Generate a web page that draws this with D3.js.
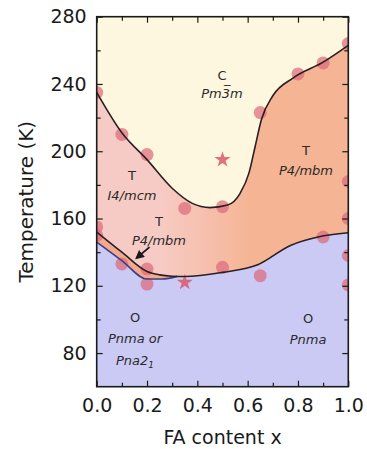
<!DOCTYPE html>
<html>
<head>
<meta charset="utf-8">
<script src="https://cdn.jsdelivr.net/npm/d3@7"></script>
<style>
  html, body { margin: 0; padding: 0; background: #fff; }
  svg { display: block; font-family: "DejaVu Sans", "Liberation Sans", Arial, sans-serif; }
</style>
</head>
<body>
<svg id="chart" width="367" height="449"></svg>
<script>
// Phase boundaries of MA(1-x)FA(x)PbI3: [FA content x, temperature K]
const cubicBoundaryX = [0, 0.1, 0.2, 0.3, 0.38, 0.45, 0.52, 0.57, 0.605, 0.63, 0.655, 0.7, 0.78, 0.9, 1.0];
const cubicBoundaryT = [235, 211, 195, 178, 169, 166.5, 168, 175, 187, 203, 219, 233, 243.5, 253, 263];

const tetragonalBoundaryX = [0, 0.1, 0.2, 0.25, 0.3, 0.35, 0.5, 0.64, 0.77, 0.88, 1.0];
const tetragonalBoundaryT = [152, 140, 128.5, 126.5, 125.7, 125.5, 128, 132.5, 144, 149, 151.5];

const orthoBoundaryX = [0, 0.1, 0.2, 0.26, 0.32];
const orthoBoundaryT = [146, 135, 124, 124, 125.6];

// Measured transition temperatures
const pointX = [0, 0.1, 0.2, 0.35, 0.5, 0.65, 0.8, 0.9, 1.0, 1.0, 1.0, 1.0, 1.0, 0, 0, 0.1, 0.2, 0.2, 0.5, 0.65, 0.9];
const pointT = [235, 210, 198, 166, 167, 223, 246, 252.5, 264, 182, 160, 138, 120.5, 155, 150, 133, 130, 121, 131, 126, 149];
const starX = [0.5, 0.35];
const starT = [195, 122];

// Axis ticks
const xMajorTicks = [0, 0.2, 0.4, 0.6, 0.8, 1.0];
const xMinorTicks = [0.1, 0.3, 0.5, 0.7, 0.9];
const yMajorTicks = [80, 120, 160, 200, 240, 280];
const yMinorTicks = [100, 140, 180, 220, 260];

const W = 367, H = 449;
const margin = { left: 96.7, right: 18.7, top: 16.7, bottom: 62.3 };
const svg = d3.select("#chart");

const x = d3.scaleLinear().domain([0, 1]).range([margin.left, W - margin.right]);
const y = d3.scaleLinear().domain([60, 280]).range([H - margin.bottom, margin.top]);

const zip = (xs, ts) => xs.map((v, i) => [v, ts[i]]);
const cubic = zip(cubicBoundaryX, cubicBoundaryT);
const tetra = zip(tetragonalBoundaryX, tetragonalBoundaryT);
const ortho = zip(orthoBoundaryX, orthoBoundaryT);
// lower edge of all tetragonal phases: orthorhombic line, then shared line
const orthoFull = ortho.concat(tetra.filter(d => d[0] > orthoBoundaryX[orthoBoundaryX.length - 1]));

const defs = svg.append("defs");
defs.append("clipPath").attr("id", "plotClip")
  .append("rect")
  .attr("x", x(0)).attr("y", y(280))
  .attr("width", x(1) - x(0)).attr("height", y(60) - y(280));

const grad = defs.append("linearGradient").attr("id", "tetraGrad")
  .attr("gradientUnits", "userSpaceOnUse")
  .attr("x1", x(0.25)).attr("x2", x(0.62)).attr("y1", 0).attr("y2", 0);
grad.append("stop").attr("offset", 0).attr("stop-color", "#f7cbc5");
grad.append("stop").attr("offset", 1).attr("stop-color", "#f5b493");

const plot = svg.append("g").attr("clip-path", "url(#plotClip)");

const areaAbove = d3.area()
  .x(d => x(d[0])).y0(d => y(d[1])).y1(y(290))
  .curve(d3.curveMonotoneX);
const line = d3.line().x(d => x(d[0])).y(d => y(d[1])).curve(d3.curveMonotoneX);

// orthorhombic phase
plot.append("rect")
  .attr("x", x(0)).attr("y", y(280))
  .attr("width", x(1) - x(0)).attr("height", y(60) - y(280))
  .attr("fill", "#cacaf4");
// P4/mbm sliver + tetragonal phases
plot.append("path").datum(orthoFull).attr("d", areaAbove).attr("fill", "#f3a98c");
plot.append("path").datum(tetra).attr("d", areaAbove).attr("fill", "url(#tetraGrad)");
// cubic phase
plot.append("path").datum(cubic).attr("d", areaAbove).attr("fill", "#fdf7df");

// data markers
plot.selectAll("circle.pt").data(zip(pointX, pointT)).join("circle")
  .attr("class", "pt")
  .attr("cx", d => x(d[0])).attr("cy", d => y(d[1])).attr("r", 6.5)
  .attr("fill", "#dd6b7c").attr("fill-opacity", 0.72);

const star = d3.symbol().type(d3.symbolStar).size(80);
plot.selectAll("path.star").data(zip(starX, starT)).join("path")
  .attr("class", "star")
  .attr("d", star)
  .attr("transform", d => `translate(${x(d[0])},${y(d[1])})`)
  .attr("fill", "#d9586c").attr("fill-opacity", 0.85);

// boundary lines
plot.append("path").datum(ortho).attr("d", line)
  .attr("fill", "none").attr("stroke", "#3c3f80").attr("stroke-width", 1.6);
plot.append("path").datum(tetra).attr("d", line)
  .attr("fill", "none").attr("stroke", "#2a1f22").attr("stroke-width", 1.6);
plot.append("path").datum(cubic).attr("d", line)
  .attr("fill", "none").attr("stroke", "#2a1f22").attr("stroke-width", 1.6);

// arrow toward the P4/mbm sliver
defs.append("marker").attr("id", "arrowHead")
  .attr("viewBox", "0 0 10 10").attr("refX", 8).attr("refY", 5)
  .attr("markerWidth", 5).attr("markerHeight", 5).attr("orient", "auto")
  .append("path").attr("d", "M0,0L10,5L0,10z").attr("fill", "#1a1a1a");
svg.append("line")
  .attr("x1", x(0.21)).attr("y1", y(143))
  .attr("x2", x(0.158)).attr("y2", y(136.5))
  .attr("stroke", "#1a1a1a").attr("stroke-width", 1.8)
  .attr("marker-end", "url(#arrowHead)");

// phase labels (centre positions)
const labelFont = 13;
const labels = svg.append("g").attr("fill", "#2b2b2b").attr("font-size", labelFont).attr("text-anchor", "middle");
const base = cy => cy + labelFont * 0.36;
function phaseLabel(cx, cy1, cy2, sys, group) {
  labels.append("text").attr("x", cx).attr("y", base(cy1)).text(sys);
  const t = labels.append("text").attr("x", cx).attr("y", base(cy2)).attr("font-style", "italic");
  group(t);
}
phaseLabel(222, 75, 93, "C", t => {
  t.append("tspan").text("Pm");
  t.append("tspan").text("3\u0305");
  t.append("tspan").text("m");
});
phaseLabel(132, 175, 195, "T", t => t.text("I4/mcm"));
phaseLabel(159, 221, 240, "T", t => t.text("P4/mbm"));
phaseLabel(306, 150, 170, "T", t => t.text("P4/mbm"));
phaseLabel(308, 318, 339, "O", t => t.text("Pnma"));
phaseLabel(135, 317, 338, "O", t => t.text("Pnma or"));
{
  const t = labels.append("text").attr("x", 135).attr("y", base(360)).attr("font-style", "italic");
  t.append("tspan").text("Pna2");
  t.append("tspan").attr("font-size", 9).attr("dy", 3).text("1");
}

// axes with inward ticks on all four sides
const axisFont = 19;
function styleAxis(g) {
  g.select(".domain").remove();
  g.selectAll("line").attr("stroke", "#1a1a1a").attr("stroke-width", 1.2);
  g.selectAll("text").attr("font-size", axisFont).attr("fill", "#1a1a1a")
    .attr("font-family", "DejaVu Sans, Liberation Sans, Arial, sans-serif");
}
svg.append("g").attr("transform", `translate(0,${y(60)})`)
  .call(d3.axisBottom(x).tickValues(xMajorTicks).tickFormat(d3.format(".1f")).tickSize(-6).tickPadding(12))
  .call(styleAxis);
svg.append("g").attr("transform", `translate(0,${y(60)})`)
  .call(d3.axisBottom(x).tickValues(xMinorTicks).tickFormat("").tickSize(-4))
  .call(styleAxis);
svg.append("g").attr("transform", `translate(0,${y(280)})`)
  .call(d3.axisTop(x).tickValues(xMajorTicks).tickFormat("").tickSize(-6))
  .call(styleAxis);
svg.append("g").attr("transform", `translate(0,${y(280)})`)
  .call(d3.axisTop(x).tickValues(xMinorTicks).tickFormat("").tickSize(-4))
  .call(styleAxis);
svg.append("g").attr("transform", `translate(${x(0)},0)`)
  .call(d3.axisLeft(y).tickValues(yMajorTicks).tickSize(-6).tickPadding(10))
  .call(styleAxis);
svg.append("g").attr("transform", `translate(${x(0)},0)`)
  .call(d3.axisLeft(y).tickValues(yMinorTicks).tickFormat("").tickSize(-4))
  .call(styleAxis);
svg.append("g").attr("transform", `translate(${x(1)},0)`)
  .call(d3.axisRight(y).tickValues(yMajorTicks).tickFormat("").tickSize(-6))
  .call(styleAxis);
svg.append("g").attr("transform", `translate(${x(1)},0)`)
  .call(d3.axisRight(y).tickValues(yMinorTicks).tickFormat("").tickSize(-4))
  .call(styleAxis);

// frame
svg.append("rect")
  .attr("x", x(0)).attr("y", y(280))
  .attr("width", x(1) - x(0)).attr("height", y(60) - y(280))
  .attr("fill", "none").attr("stroke", "#1a1a1a").attr("stroke-width", 1.6);

// axis titles
svg.append("text")
  .attr("x", (x(0) + x(1)) / 2).attr("y", 444)
  .attr("text-anchor", "middle").attr("font-size", 19).attr("fill", "#1a1a1a")
  .text("FA content x");
svg.append("text")
  .attr("transform", `translate(33,${(y(60) + y(280)) / 2}) rotate(-90)`)
  .attr("text-anchor", "middle").attr("font-size", 20).attr("fill", "#1a1a1a")
  .text("Temperature (K)");
</script>
</body>
</html>
